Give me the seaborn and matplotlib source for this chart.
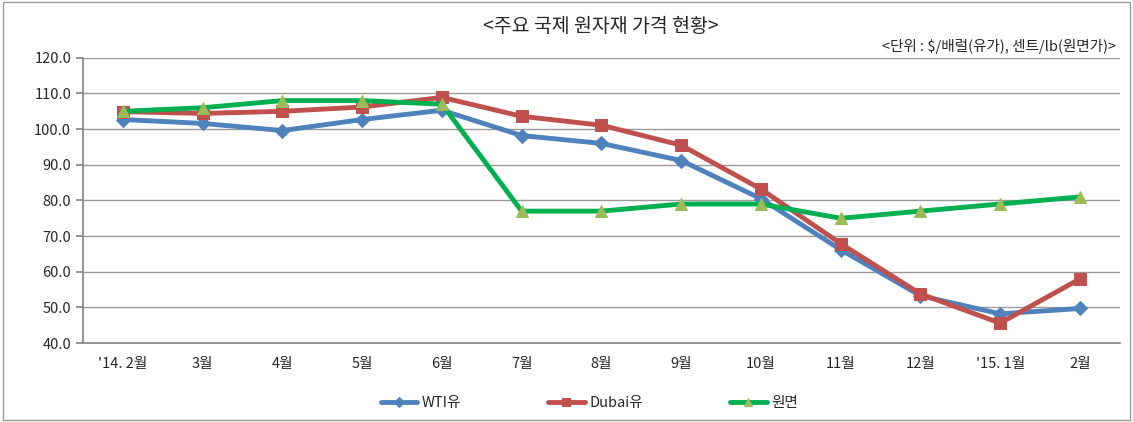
import pandas as pd
import seaborn as sns
import matplotlib.pyplot as plt
from matplotlib.ticker import FixedLocator

# 데이터
months = ["'14. 2월", "3월", "4월", "5월", "6월", "7월", "8월", "9월", "10월", "11월", "12월", "'15. 1월", "2월"]
wti = [102.7, 101.6, 99.6, 102.7, 105.3, 98.2, 96.0, 91.2, 80.5, 66.2, 53.3, 48.2, 49.7]
dubai = [104.9, 104.4, 105.0, 106.2, 108.9, 103.6, 101.1, 95.5, 83.2, 67.9, 53.8, 45.6, 58.0]
cotton = [105.0, 106.0, 108.0, 108.0, 107.0, 77.0, 77.0, 79.0, 79.0, 75.0, 77.0, 79.0, 81.0]

series_names = ["WTI유", "Dubai유", "원면"]

df = pd.DataFrame({"idx": list(range(len(months))) * 3,
                   "값": wti + dubai + cotton,
                   "종류": [n for n in series_names for _ in months]})

sns.set_theme(style="white")
plt.rcParams['font.family'] = ['Noto Sans CJK KR', 'DejaVu Sans']

fig = plt.figure(figsize=(11.33, 4.22), dpi=100)
ax = fig.add_axes([0.0733, 0.187, 0.915, 0.676])

styles = {
    "WTI유": dict(color="#4F81BD", marker="D", mfc="#4F81BD", ms=7),
    "Dubai유": dict(color="#C0504D", marker="s", mfc="#C0504D", ms=8),
    "원면": dict(color="#00B050", marker="^", mfc="#9BBB59", ms=8),
}
for name in series_names:
    st = styles[name]
    sns.lineplot(data=df[df["종류"] == name], x="idx", y="값", ax=ax,
                 color=st["color"], linewidth=3.5, marker=st["marker"],
                 markersize=st["ms"], markerfacecolor=st["mfc"],
                 markeredgecolor=st["mfc"], label=name)

ax.set_xlim(-0.5, len(months) - 0.5)
ax.set_ylim(40, 120)
ax.set_yticks(range(40, 121, 10))
ax.set_yticklabels([f"{v:.1f}" for v in range(40, 121, 10)], fontsize=10.5)
ax.set_xticks(range(len(months)))
ax.set_xticklabels(months, fontsize=10.5)
ax.tick_params(axis="x", length=0, pad=10)
ax.xaxis.set_minor_locator(FixedLocator([i - 0.5 for i in range(len(months) + 1)]))
ax.tick_params(axis="x", which="minor", length=5, color="#888888", direction="out")
ax.tick_params(axis="y", length=5, color="#888888", direction="out", left=True)
ax.grid(axis="y", color="#999999", linewidth=1)
for s in ["top", "right"]:
    ax.spines[s].set_visible(False)
ax.spines["left"].set_color("#888888")
ax.spines["bottom"].set_color("#888888")
ax.set_xlabel("")
ax.set_ylabel("")

ax.legend(loc="center", bbox_to_anchor=(0.52, 0.045), bbox_transform=fig.transFigure,
          ncol=3, frameon=False, fontsize=10.5, handlelength=2.5, columnspacing=6,
          handletextpad=0.3, markerscale=0.8)

fig.text(0.53, 0.925, "<주요 국제 원자재 가격 현황>", ha="center", fontsize=14)
fig.text(0.985, 0.88, "<단위 : $/배럴(유가), 센트/lb(원면가)>", ha="right", fontsize=10.5)

fig.patches.append(plt.Rectangle((0.003, 0.005), 0.994, 0.99, transform=fig.transFigure,
                                 fill=False, edgecolor="#999999", linewidth=1))

fig.savefig("out.png", dpi=100)
